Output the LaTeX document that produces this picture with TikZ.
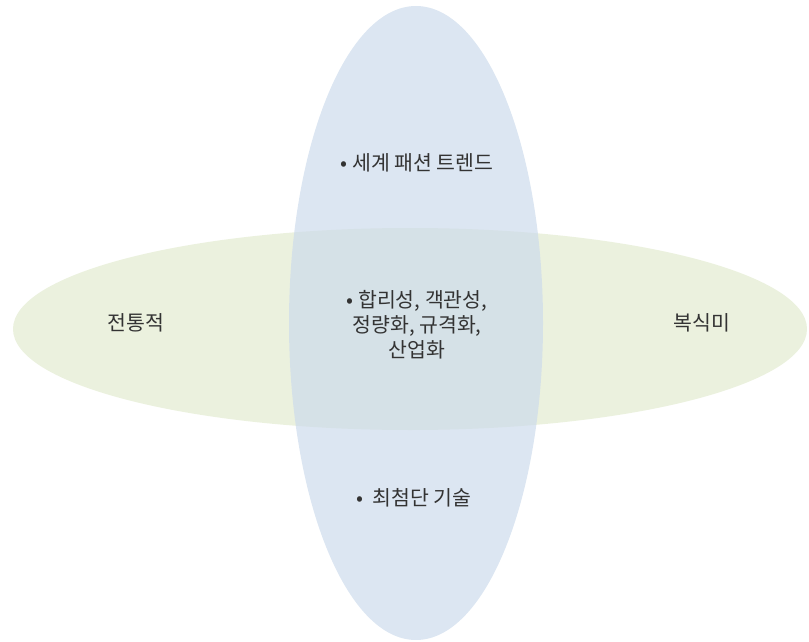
\documentclass[tikz,border=0pt]{standalone}
\usepackage{fontspec}
\setmainfont{Noto Sans CJK KR}
\definecolor{ellgreen}{HTML}{EBF1DE}
\definecolor{ellblue}{RGB}{205,219,236}
\definecolor{txt}{HTML}{333333}
\begin{document}
\begin{tikzpicture}[x=1pt,y=-1pt,
  lbl/.style={text=txt,font=\fontsize{20.5}{25}\selectfont,inner sep=0pt,align=center}]
\useasboundingbox (0,0) rectangle (809,642);
\fill[ellgreen] (410,329) ellipse [x radius=397,y radius=101];
\fill[ellblue,fill opacity=0.7] (416,323) ellipse [x radius=127,y radius=317];
\node[lbl] (top) at (417,163) {• 세계 패션 트렌드};
\node[lbl] (mid) at (417,325) {• 합리성, 객관성,\\정량화, 규격화,\\산업화};
\node[lbl] (left) at (136,323) {전통적};
\node[lbl] (right) at (702,323) {복식미};
\node[lbl] (bot) at (414,498) {•\ \ 최첨단 기술};
\end{tikzpicture}
\end{document}
